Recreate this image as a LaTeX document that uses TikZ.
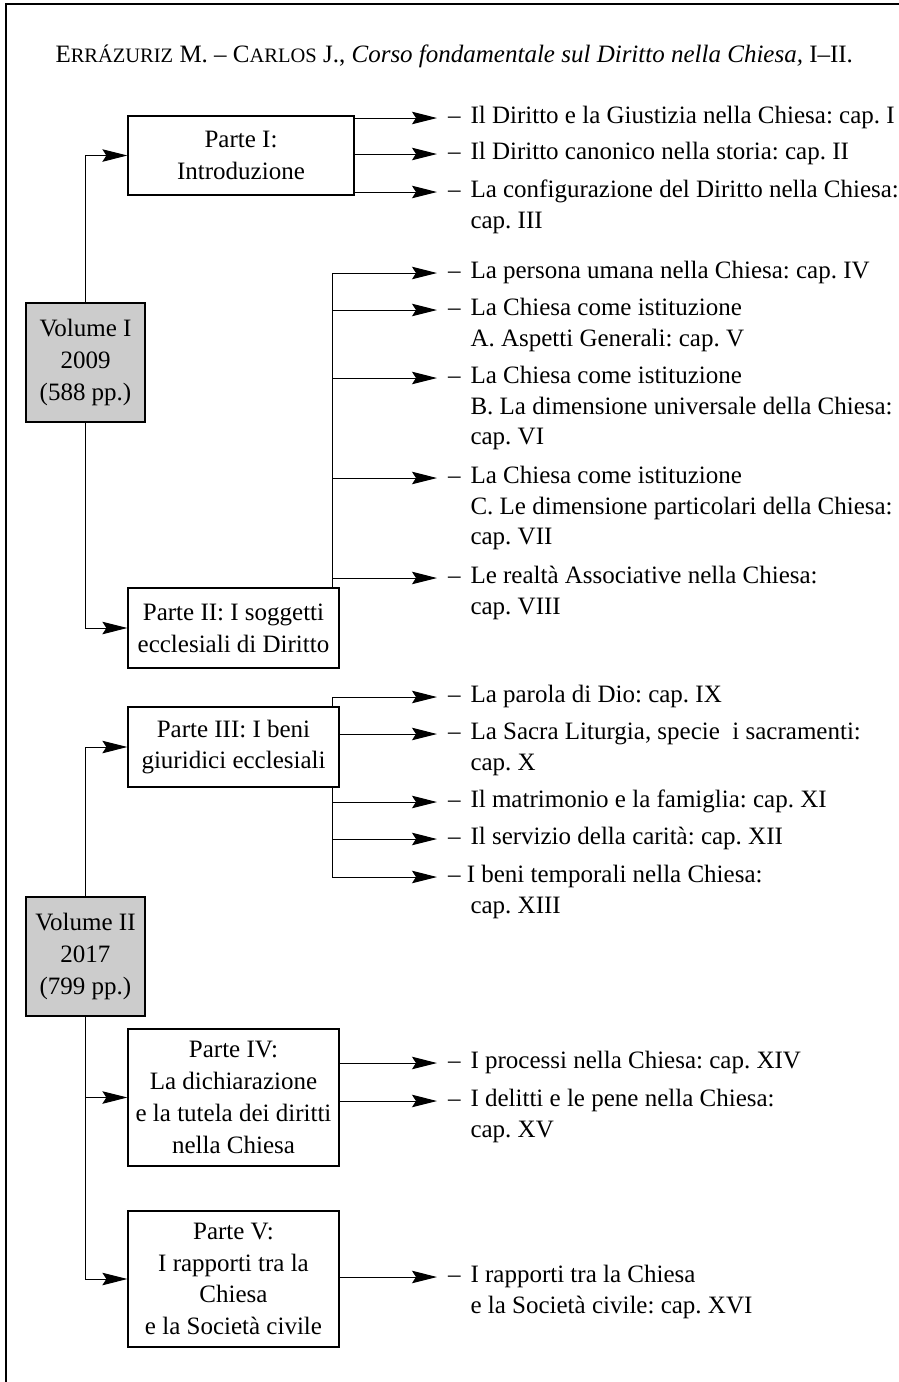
\documentclass[tikz,border=0pt]{standalone}
\usepackage{fontspec}
\setmainfont{Liberation Serif}
\usetikzlibrary{arrows.meta}
\frenchspacing
\newcommand{\finto}[1]{{\fontsize{8.2}{9}\selectfont #1}}
\newcommand{\capi}[1]{\begin{tabular}[t]{@{}l@{\hspace{4pt}}l@{}}#1\end{tabular}}

\begin{document}
\begin{tikzpicture}[x=0.4pt,y=-0.4pt,
    font=\fontsize{10}{12.2}\selectfont,
    vol/.style={draw,line width=0.5pt,fill=black!20,minimum width=47.6pt,minimum height=47.6pt,inner sep=1pt,align=center,font=\fontsize{10}{12.7}\selectfont},
    parte/.style={draw,line width=0.5pt,fill=white,minimum width=84.4pt,minimum height=32pt,inner sep=1pt,align=center,font=\fontsize{10}{12.7}\selectfont},
    capo/.style={anchor=mid west,inner xsep=4.4pt,inner ysep=0pt,outer sep=0pt},
    freccia/.style={-{Stealth[length=10pt,width=5pt,inset=1.6pt]}}]
    \useasboundingbox (0,0) rectangle (899,1382);
    \draw [line width=0.5pt] (6,1382) -- (6,4) -- (899,4);
    \node [anchor=base west,inner sep=0pt] (titolo) at (55,62) {E\finto{RRÁZURIZ} M. – C\finto{ARLOS} J., \textit{Corso fondamentale sul Diritto nella Chiesa,} I–II.};

    \node [vol] (vol1) at (85.5,362.5) {Volume I\\2009\\(588 pp.)};
    \node [vol] (vol2) at (85.5,956.5) {Volume II\\2017\\(799 pp.)};
    \node [parte,minimum width=90.4pt,minimum height=31.6pt] (p1) at (241,155.5) {Parte I:\\Introduzione};
    \node [parte] (p2) at (233.5,628) {Parte II: I soggetti\\ecclesiali di Diritto};
    \node [parte] (p3) at (233.5,747) {Parte III: I beni\\giuridici ecclesiali};
    \node [parte,minimum height=54.8pt] (p4) at (233.5,1097.5) {Parte IV:\\La dichiarazione\\e la tutela dei diritti\\nella Chiesa};
    \node [parte,minimum height=54.4pt] (p5) at (233.5,1279) {Parte V:\\I rapporti tra la\\Chiesa\\e la Società civile};

    \node [capo] (k1) at (437,118) {\capi{– & Il Diritto e la Giustizia nella Chiesa: cap. I}};
    \node [capo] (k2) at (437,154) {\capi{– & Il Diritto canonico nella storia: cap. II}};
    \node [capo] (k3) at (437,192) {\capi{– & La configurazione del Diritto nella Chiesa:\\ & cap. III}};
    \node [capo] (k4) at (437,273) {\capi{– & La persona umana nella Chiesa: cap. IV}};
    \node [capo] (k5) at (437,310) {\capi{– & La Chiesa come istituzione\\ & A. Aspetti Generali: cap. V}};
    \node [capo] (k6) at (437,378) {\capi{– & La Chiesa come istituzione\\ & B. La dimensione universale della Chiesa:\\ & cap. VI}};
    \node [capo] (k7) at (437,478) {\capi{– & La Chiesa come istituzione\\ & C. Le dimensione particolari della Chiesa:\\ & cap. VII}};
    \node [capo] (k8) at (437,578) {\capi{– & Le realtà Associative nella Chiesa:\\ & cap. VIII}};
    \node [capo] (k9) at (437,697) {\capi{– & La parola di Dio: cap. IX}};
    \node [capo] (k10) at (437,734) {\capi{– & La Sacra Liturgia, specie~ i sacramenti:\\ & cap. X}};
    \node [capo] (k11) at (437,802) {\capi{– & Il matrimonio e la famiglia: cap. XI}};
    \node [capo] (k12) at (437,839) {\capi{– & Il servizio della carità: cap. XII}};
    \node [capo] (k13) at (437,877) {\capi{\multicolumn{2}{@{}l@{}}{– I beni temporali nella Chiesa:}\\ \phantom{–} & cap. XIII}};
    \node [capo] (k14) at (437,1063) {\capi{– & I processi nella Chiesa: cap. XIV}};
    \node [capo] (k15) at (437,1101) {\capi{– & I delitti e le pene nella Chiesa:\\ & cap. XV}};
    \node [capo] (k16) at (437,1277) {\capi{– & I rapporti tra la Chiesa\\ & e la Società civile: cap. XVI}};

    \draw [freccia] (vol1) |- (p1);
    \draw [freccia] (vol1) |- (p2);
    \draw [freccia] (vol2) |- (p3);
    \draw [freccia] (vol2) |- (p4);
    \draw [freccia] (vol2) |- (p5);

    \foreach \n in {1,2,3} \draw [freccia] (p1.east |- k\n.mid west) -- (k\n.mid west);
    \coordinate (t2) at ([xshift=-2.8pt]p2.north east);
    \foreach \n in {4,...,8} \draw [freccia] (t2) |- (k\n.mid west);
    \draw [freccia] ([xshift=-2.8pt]p3.north east) |- (k9.mid west);
    \draw [freccia] (p3.east |- k10.mid west) -- (k10.mid west);
    \foreach \n in {11,12,13} \draw [freccia] ([xshift=-2.8pt]p3.south east) |- (k\n.mid west);
    \foreach \n in {14,15} \draw [freccia] (p4.east |- k\n.mid west) -- (k\n.mid west);
    \draw [freccia] (p5.east |- k16.mid west) -- (k16.mid west);
\end{tikzpicture}
\end{document}
